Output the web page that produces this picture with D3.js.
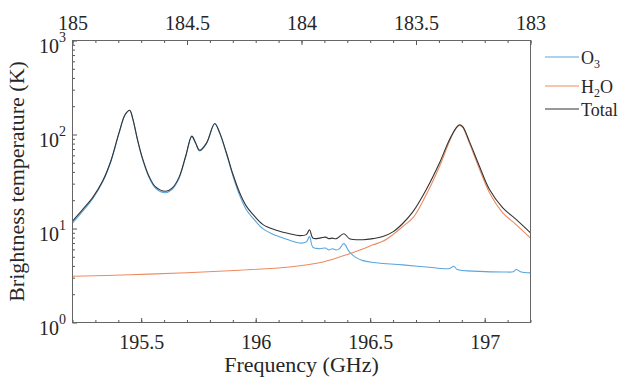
<!DOCTYPE html>
<html>
<head>
<meta charset="utf-8">
<script src="https://cdn.jsdelivr.net/npm/d3@7"></script>
<style>
  body { margin: 0; background: #fff; }
  svg { display: block; }
  text { font-family: "Liberation Serif", "Times New Roman", serif; fill: #262626; }
</style>
</head>
<body>
<svg id="chart" width="624" height="380"></svg>
<script>
// values (frequency in GHz, brightness temperature in K)
const freqTotal = [195.200,195.244,195.287,195.331,195.367,195.403,195.430,195.450,195.462,195.484,195.505,195.534,195.563,195.607,195.636,195.665,195.694,195.721,195.738,195.755,195.785,195.821,195.843,195.872,195.901,195.930,195.959,195.988,196.032,196.090,196.148,196.192,196.221,196.235,196.250,196.280,196.305,196.320,196.334,196.352,196.385,196.410,196.468,196.512,196.555,196.599,196.642,196.686,196.745,196.803,196.846,196.875,196.890,196.904,196.933,196.977,197.021,197.079,197.137,197.200];
const total = [12.0,15.9,21.2,31.8,52,104,163,181,151,88,56.5,36,27.7,24.9,27.1,35,58.7,96,81,68,81,131,104,64,37.5,24,17.3,14.1,11.0,9.6,8.8,8.4,8.6,9.7,7.9,7.9,8.1,7.8,7.9,7.8,8.8,7.8,7.6,7.8,8.2,9.2,11.3,15,26,50,88,117,127,121,84.5,46,26,16.6,12.5,9.0];

const freqO3 = [195.200,195.244,195.287,195.331,195.367,195.403,195.430,195.450,195.462,195.484,195.505,195.534,195.563,195.607,195.636,195.665,195.694,195.721,195.738,195.755,195.785,195.821,195.843,195.872,195.901,195.930,195.959,195.988,196.032,196.090,196.148,196.192,196.221,196.235,196.250,196.280,196.305,196.320,196.334,196.352,196.366,196.385,196.410,196.439,196.468,196.512,196.555,196.642,196.745,196.846,196.865,196.880,196.977,197.079,197.125,197.137,197.159,197.200];
const o3 = [11.4,15.2,20.5,31,51,103,162,180,150,87,55.5,35,26.8,24.0,26.2,34,57.5,95,80,67,80,130,103,62.5,36,22.5,15.8,12.9,9.9,8.4,7.5,7.0,7.2,8.2,6.3,6.1,6.2,5.9,6.1,5.9,6.1,6.9,5.6,4.9,4.55,4.35,4.25,4.1,3.9,3.75,3.97,3.66,3.5,3.45,3.47,3.66,3.45,3.37];

const freqH2O = [195.200,195.450,195.700,195.930,196.148,196.294,196.410,196.470,196.512,196.555,196.599,196.642,196.690,196.745,196.803,196.846,196.875,196.890,196.904,196.933,196.977,197.021,197.079,197.137,197.200];
const h2o = [3.1,3.22,3.38,3.6,3.9,4.4,5.4,6.1,6.7,7.3,8.6,10.5,13.3,23,46,84,118,125,119,81,43,24,14.7,11,7.9];

const bottomTicks = [195.5, 196, 196.5, 197];
const topTicks = [185, 184.5, 184, 183.5, 183];
const yTicks = [1, 10, 100, 1000];

const series = [
  { name: 'O3', f: freqO3, v: o3, color: '#5aa5dc' },
  { name: 'H2O', f: freqH2O, v: h2o, color: '#ec8b61' },
  { name: 'Total', f: freqTotal, v: total, color: '#333333' }
];

const plot = { left: 72.5, right: 530.5, top: 40.5, bottom: 322.5 };

const svg = d3.select('#chart');

const x = d3.scaleLinear().domain([195.2, 197.2]).range([plot.left, plot.right]);
const xTop = d3.scaleLinear().domain([185, 183]).range([plot.left, plot.right]);
const y = d3.scaleLog().domain([1, 1000]).range([plot.bottom, plot.top]);

svg.append('defs').append('clipPath').attr('id', 'clip')
  .append('rect')
  .attr('x', plot.left).attr('y', plot.top)
  .attr('width', plot.right - plot.left).attr('height', plot.bottom - plot.top);

// lines
const line = d3.line()
  .x(d => x(d[0]))
  .y(d => y(d[1]))
  .curve(d3.curveCatmullRom.alpha(0.5));

svg.append('g').attr('clip-path', 'url(#clip)')
  .selectAll('path')
  .data(series)
  .enter()
  .append('path')
  .attr('d', s => line(s.f.map((f, i) => [f, s.v[i]])))
  .attr('fill', 'none')
  .attr('stroke', s => s.color)
  .attr('stroke-width', 1.1);

// minor tick values
const minorX = d3.range(195.2, 197.21, 0.1).map(v => +v.toFixed(1));
const minorTop = d3.range(183, 185.01, 0.1).map(v => +v.toFixed(1));
const minorY = [];
[1, 10, 100].forEach(d => { for (let k = 2; k <= 9; k++) minorY.push(d * k); });

function styleAxis(g) {
  g.select('.domain').remove();
  g.selectAll('line').attr('stroke', '#555');
}

// bottom axis
svg.append('g')
  .attr('transform', `translate(0,${plot.bottom})`)
  .call(d3.axisBottom(x).tickValues(minorX).tickSize(-2.5).tickFormat(''))
  .call(styleAxis);
svg.append('g')
  .attr('transform', `translate(0,${plot.bottom})`)
  .call(d3.axisBottom(x).tickValues(bottomTicks).tickSize(-4.5).tickFormat(d3.format('')))
  .call(styleAxis)
  .call(g => g.selectAll('text').attr('y', 26).attr('dy', 0)
    .attr('font-size', 20).attr('font-family', null).style('fill', '#262626'));

// top axis
svg.append('g')
  .attr('transform', `translate(0,${plot.top})`)
  .call(d3.axisTop(xTop).tickValues(minorTop).tickSize(-2.5).tickFormat(''))
  .call(styleAxis);
svg.append('g')
  .attr('transform', `translate(0,${plot.top})`)
  .call(d3.axisTop(xTop).tickValues(topTicks).tickSize(-4.5).tickFormat(d3.format('')))
  .call(styleAxis)
  .call(g => g.selectAll('text').attr('y', -11).attr('dy', 0)
    .attr('font-size', 20).attr('font-family', null).style('fill', '#262626'));

// left axis
svg.append('g')
  .attr('transform', `translate(${plot.left},0)`)
  .call(d3.axisLeft(y).tickValues(minorY).tickSize(-2.5).tickFormat(''))
  .call(styleAxis);
svg.append('g')
  .attr('transform', `translate(${plot.left},0)`)
  .call(d3.axisLeft(y).tickValues(yTicks).tickSize(-4.5).tickFormat(''))
  .call(styleAxis);

const yLab = svg.append('g').selectAll('text')
  .data(yTicks)
  .enter()
  .append('text')
  .attr('x', 66)
  .attr('y', d => y(d) + 12)
  .attr('text-anchor', 'end')
  .attr('font-size', 20);
yLab.append('tspan').text('10');
yLab.append('tspan').attr('dy', -11).attr('font-size', 14).text(d => Math.round(Math.log10(d)));

// box
svg.append('rect')
  .attr('x', plot.left).attr('y', plot.top)
  .attr('width', plot.right - plot.left).attr('height', plot.bottom - plot.top)
  .attr('fill', 'none')
  .attr('stroke', '#666');

// axis titles
svg.append('text')
  .attr('x', (plot.left + plot.right) / 2)
  .attr('y', 372)
  .attr('text-anchor', 'middle')
  .attr('font-size', 22)
  .text('Frequency (GHz)');

svg.append('text')
  .attr('transform', `translate(24,${(plot.top + plot.bottom) / 2}) rotate(-90)`)
  .attr('text-anchor', 'middle')
  .attr('font-size', 22)
  .text('Brightness temperature (K)');

// legend
const legendY = [57, 86, 109];
const leg = svg.append('g');
series.forEach((s, i) => {
  leg.append('line')
    .attr('x1', 545).attr('x2', 579)
    .attr('y1', legendY[i]).attr('y2', legendY[i])
    .attr('stroke', s.color).attr('stroke-width', 1.1);
  const t = leg.append('text')
    .attr('x', 581)
    .attr('y', legendY[i] + 7)
    .attr('font-size', 18);
  if (s.name === 'O3') {
    t.append('tspan').text('O');
    t.append('tspan').attr('dy', 4).attr('font-size', 12).text('3');
  } else if (s.name === 'H2O') {
    t.append('tspan').text('H');
    t.append('tspan').attr('dy', 4).attr('font-size', 12).text('2');
    t.append('tspan').attr('dy', -4).text('O');
  } else {
    t.text(s.name);
  }
});
</script>
</body>
</html>
